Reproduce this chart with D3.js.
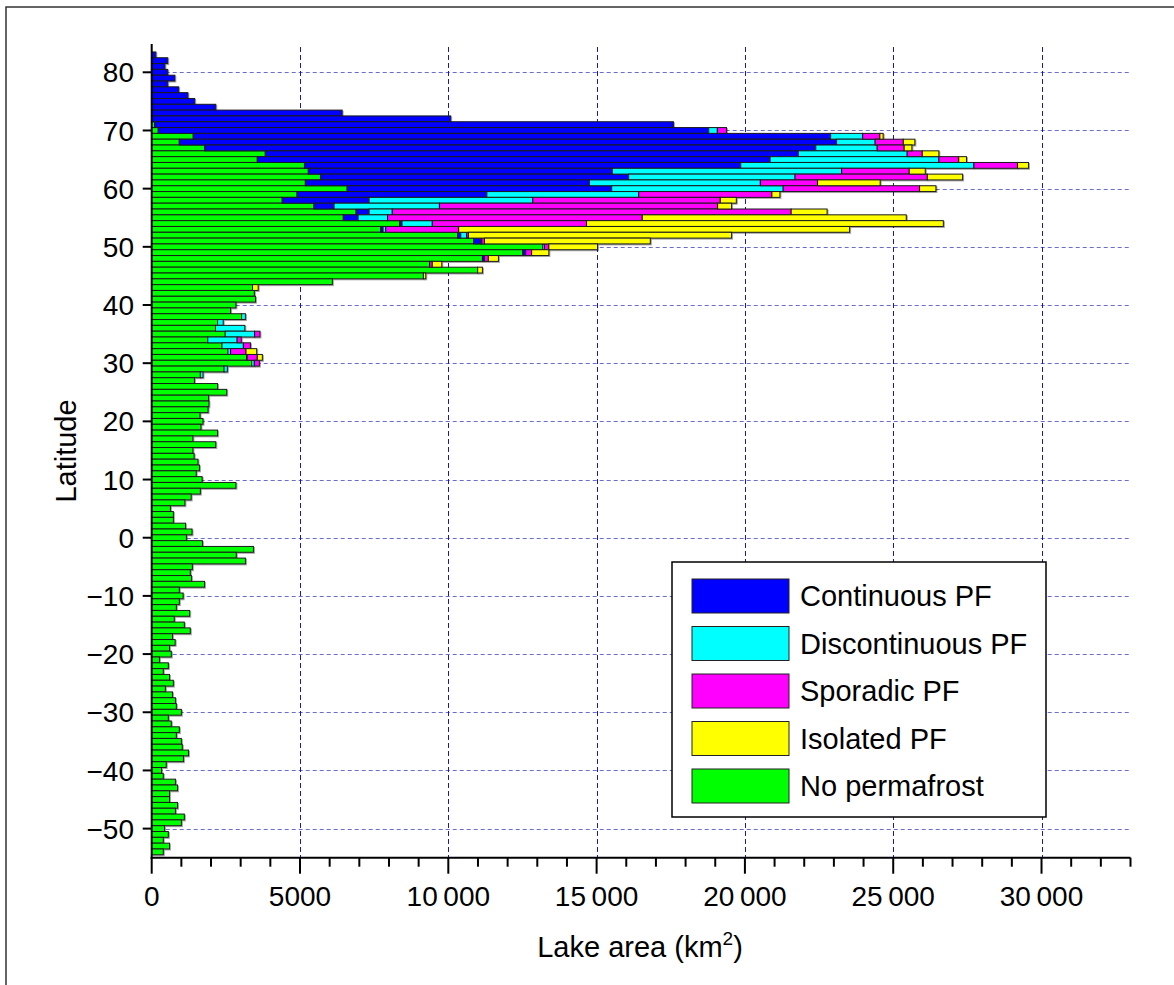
<!DOCTYPE html>
<html>
<head>
<meta charset="utf-8">
<script src="https://cdn.jsdelivr.net/npm/d3@7"></script>
<style>
  body { margin: 0; background: #fff; }
  svg { display: block; font-family: "Liberation Sans", Arial, sans-serif; }
</style>
</head>
<body>
<svg id="chart" width="1174" height="985"></svg>
<script>
// latitude bins, north to south (1 degree each)
const latitudes = [
  83, 82, 81, 80, 79, 78, 77, 76, 75, 74, 73, 72,
  71, 70, 69, 68, 67, 66, 65, 64, 63, 62,
  61, 60, 59, 58, 57, 56, 55, 54, 53, 52,
  51, 50, 49, 48, 47, 46, 45, 44, 43, 42,
  41, 40, 39, 38, 37, 36, 35, 34, 33, 32,
  31, 30, 29, 28, 27, 26, 25, 24, 23, 22,
  21, 20, 19, 18, 17, 16, 15, 14, 13, 12,
  11, 10, 9, 8, 7, 6, 5, 4, 3, 2,
  1, 0, -1, -2, -3, -4, -5, -6, -7, -8,
  -9, -10, -11, -12, -13, -14, -15, -16, -17, -18,
  -19, -20, -21, -22, -23, -24, -25, -26, -27, -28,
  -29, -30, -31, -32, -33, -34, -35, -36, -37, -38,
  -39, -40, -41, -42, -43, -44, -45, -46, -47, -48,
  -49, -50, -51, -52, -53, -54
];

// lake area (km2) with no permafrost, same order as latitudes
const noPermafrost = [
  0, 0, 0, 0, 0, 0, 0, 0, 0, 0, 0, 0,
  100, 220, 1400, 930, 1780, 3830, 3560, 5150, 5280, 5690,
  5180, 6590, 4900, 4400, 5470, 6890, 6460, 8360, 7720, 10310,
  10850, 13180, 12510, 11150, 9370, 10990, 9160, 6090, 3400, 3460,
  3500, 2840, 2660, 3030, 2220, 2150, 2480, 1890, 2370, 2570,
  3200, 3370, 2440, 1640, 1440, 2220, 2530, 1920, 1930, 1900,
  1630, 1730, 1660, 2220, 1390, 2160, 1390, 1430, 1560, 1610,
  1500, 1700, 2840, 1640, 1330, 1120, 630, 730, 730, 1140,
  1360, 1170, 1710, 3430, 2850, 3160, 1370, 1300, 1340, 1780,
  930, 1060, 930, 830, 1280, 760, 1100, 1300, 700, 790,
  600, 660, 260, 560, 390, 600, 730, 460, 700, 800,
  830, 1000, 560, 660, 930, 830, 1000, 1030, 1240, 1070,
  490, 330, 390, 800, 870, 600, 600, 870, 800, 1100,
  1000, 430, 560, 390, 600, 390
];

// permafrost classes only occur from 83 N down to 28 N (first 56 bins)
const continuous = [
  140, 540, 445, 540, 780, 540, 910, 1220, 1450, 2160, 6420, 10080,
  17490, 18560, 21490, 22160, 20610, 17970, 17290, 14710, 10250, 10390,
  9580, 8920, 6400, 2930, 680, 440, 500, 80, 80, 110,
  250, 0, 100, 70, 0, 0, 0, 0, 0, 0,
  0, 0, 0, 0, 0, 0, 0, 0, 0, 0,
  0, 0, 0, 0
];
const discontinuous = [
  0, 0, 0, 0, 0, 0, 0, 0, 0, 0, 0, 0,
  0, 290, 1080, 1300, 2070, 3670, 5690, 7860, 7730, 5610,
  5760, 5780, 5120, 5520, 3550, 780, 990, 1020, 90, 200,
  30, 60, 0, 0, 0, 0, 0, 0, 0, 0,
  0, 0, 0, 130, 190, 990, 990, 990, 720, 90,
  20, 90, 110, 90
];
const sporadic = [
  0, 0, 0, 0, 0, 0, 0, 0, 0, 0, 0, 0,
  0, 310, 580, 950, 910, 510, 670, 1470, 2280, 4460,
  1930, 4600, 4490, 6320, 9380, 13450, 8590, 5200, 2460, 60,
  90, 150, 200, 130, 90, 0, 0, 0, 0, 0,
  0, 0, 0, 0, 0, 0, 180, 140, 240, 520,
  340, 170, 0, 0
];
const isolated = [
  0, 0, 0, 0, 0, 0, 0, 0, 0, 0, 0, 0,
  0, 0, 110, 390, 260, 560, 260, 370, 540, 1190,
  2110, 550, 270, 540, 470, 1210, 8900, 12030, 13180, 8870,
  5590, 1640, 580, 340, 320, 160, 80, 0, 190, 0,
  0, 0, 0, 0, 0, 0, 0, 0, 0, 360,
  170, 0, 0, 0
];

const keys = ["noPF", "continuous", "discontinuous", "sporadic", "isolated"];
const legendLabels = ["Continuous PF", "Discontinuous PF", "Sporadic PF", "Isolated PF", "No permafrost"];
const legendKeys = ["continuous", "discontinuous", "sporadic", "isolated", "noPF"];
const colors = {
  noPF: "#00ff00",
  continuous: "#0000ff",
  discontinuous: "#00ffff",
  sporadic: "#ff00ff",
  isolated: "#ffff00"
};

const xTicks = [0, 5000, 10000, 15000, 20000, 25000, 30000];
const xTickLabels = ["0", "5000", "10\u2009000", "15\u2009000", "20\u2009000", "25\u2009000", "30\u2009000"];
const yTicks = [80, 70, 60, 50, 40, 30, 20, 10, 0, -10, -20, -30, -40, -50];

const svg = d3.select("#chart");

const width = 1174;
const height = 985;
const plotLeft = 151.7;
const plotRight = 1130.5;
const plotTop = 43.2;
const plotBottom = 857.7;

const rows = latitudes.map((lat, i) => ({
  lat: lat,
  noPF: noPermafrost[i],
  continuous: continuous[i] || 0,
  discontinuous: discontinuous[i] || 0,
  sporadic: sporadic[i] || 0,
  isolated: isolated[i] || 0
}));

const series = d3.stack().keys(keys)(rows);

const x = d3.scaleLinear()
    .domain([0, 33000])
    .range([plotLeft, plotRight]);

const y = d3.scaleLinear()
    .domain([-55, 85])
    .range([plotBottom, plotTop]);

// figure frame (top and left edges only)
svg.append("path")
    .attr("d", `M6,985 V7 H${width}`)
    .attr("fill", "none")
    .attr("stroke", "#333")
    .attr("stroke-width", 1.5);

// grid
svg.append("g")
  .selectAll("line")
  .data(yTicks)
  .join("line")
    .attr("x1", plotLeft)
    .attr("x2", 1129)
    .attr("y1", d => Math.round(y(d)) + 0.5)
    .attr("y2", d => Math.round(y(d)) + 0.5)
    .attr("stroke", "#6b6bd0")
    .attr("stroke-width", 1.2)
    .attr("stroke-dasharray", "4,3");

svg.append("g")
  .selectAll("line")
  .data(xTicks.slice(1))
  .join("line")
    .attr("x1", d => Math.round(x(d)) + 0.5)
    .attr("x2", d => Math.round(x(d)) + 0.5)
    .attr("y1", 47)
    .attr("y2", plotBottom)
    .attr("stroke", "#1a1aaa")
    .attr("stroke-width", 1)
    .attr("stroke-dasharray", "5,3");

// bars
svg.append("g")
    .attr("stroke", "#1a1a1a")
    .attr("stroke-width", 1)
    .style("filter", "drop-shadow(1px 1px 0.6px rgba(0,0,0,0.35))")
  .selectAll("g")
  .data(series)
  .join("g")
    .attr("fill", d => colors[d.key])
  .selectAll("rect")
  .data(d => d.filter(s => s[1] - s[0] > 0))
  .join("rect")
    .attr("x", d => x(d[0]))
    .attr("width", d => x(d[1]) - x(d[0]))
    .attr("y", d => y(d.data.lat + 0.5))
    .attr("height", d => y(d.data.lat - 0.5) - y(d.data.lat + 0.5));

// x axis
const xAxis = svg.append("g");
xAxis.append("line")
    .attr("x1", plotLeft - 1).attr("x2", plotRight)
    .attr("y1", plotBottom).attr("y2", plotBottom)
    .attr("stroke", "#000").attr("stroke-width", 2);
xAxis.selectAll("line.minor")
  .data(d3.range(1000, 33001, 1000).filter(v => v % 5000 !== 0))
  .join("line")
    .attr("class", "minor")
    .attr("x1", d => x(d)).attr("x2", d => x(d))
    .attr("y1", plotBottom).attr("y2", plotBottom + 9)
    .attr("stroke", "#000").attr("stroke-width", 2);
xAxis.selectAll("line.major")
  .data(xTicks)
  .join("line")
    .attr("class", "major")
    .attr("x1", d => x(d)).attr("x2", d => x(d))
    .attr("y1", plotBottom).attr("y2", plotBottom + 16)
    .attr("stroke", "#000").attr("stroke-width", 2);
xAxis.selectAll("text")
  .data(xTicks)
  .join("text")
    .attr("x", d => x(d))
    .attr("y", 906)
    .attr("text-anchor", "middle")
    .attr("font-size", 28)
    .attr("fill", "#000")
    .text((d, i) => xTickLabels[i]);

// y axis
const yAxis = svg.append("g");
yAxis.append("line")
    .attr("x1", plotLeft).attr("x2", plotLeft)
    .attr("y1", 44).attr("y2", plotBottom + 1)
    .attr("stroke", "#000").attr("stroke-width", 2);
yAxis.selectAll("line.tick")
  .data(yTicks)
  .join("line")
    .attr("class", "tick")
    .attr("x1", plotLeft - 9).attr("x2", plotLeft)
    .attr("y1", d => y(d)).attr("y2", d => y(d))
    .attr("stroke", "#000").attr("stroke-width", 2);
yAxis.selectAll("text")
  .data(yTicks)
  .join("text")
    .attr("x", 134)
    .attr("y", d => y(d))
    .attr("dy", "0.36em")
    .attr("text-anchor", "end")
    .attr("font-size", 28)
    .attr("fill", "#000")
    .text(d => d < 0 ? "\u2212" + Math.abs(d) : d);

// axis titles
const xTitle = svg.append("text")
    .attr("x", 640)
    .attr("y", 957)
    .attr("text-anchor", "middle")
    .attr("font-size", 29)
    .attr("fill", "#000");
xTitle.append("tspan").text("Lake area (km");
xTitle.append("tspan").attr("font-size", 19).attr("dy", -12).text("2");
xTitle.append("tspan").attr("dy", 12).text(")");

svg.append("text")
    .attr("transform", "translate(76,451) rotate(-90)")
    .attr("text-anchor", "middle")
    .attr("font-size", 29)
    .attr("fill", "#000")
    .text("Latitude");

// legend
const legend = svg.append("g");
legend.append("rect")
    .attr("x", 672).attr("y", 562)
    .attr("width", 374).attr("height", 255)
    .attr("fill", "#fff")
    .attr("stroke", "#000")
    .attr("stroke-width", 1.5);

const items = legend.selectAll("g.item")
  .data(legendKeys)
  .join("g")
    .attr("class", "item")
    .attr("transform", (d, i) => `translate(692,${579 + i * 47.5})`);

items.append("rect")
    .attr("width", 97)
    .attr("height", 34)
    .attr("fill", d => colors[d])
    .attr("stroke", "#222")
    .attr("stroke-width", 1);

items.append("text")
    .attr("x", 108)
    .attr("y", 17)
    .attr("dy", "0.36em")
    .attr("font-size", 29)
    .attr("fill", "#000")
    .text((d, i) => legendLabels[i]);
</script>
</body>
</html>
